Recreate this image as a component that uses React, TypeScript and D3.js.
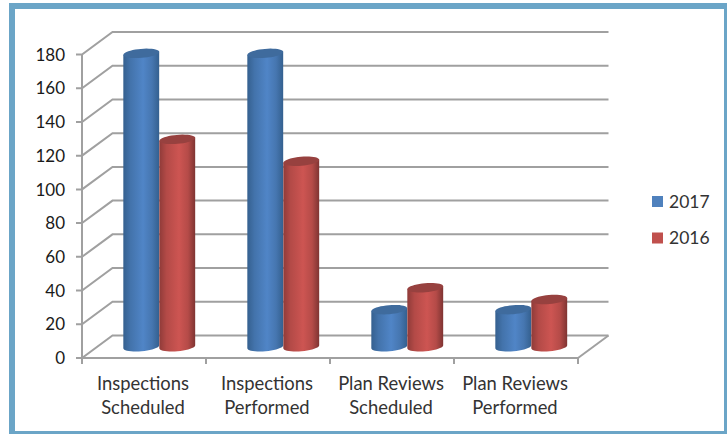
import React, { useMemo } from "react";
import * as d3 from "d3";

const categories = [
  ["Inspections", "Scheduled"],
  ["Inspections", "Performed"],
  ["Plan Reviews", "Scheduled"],
  ["Plan Reviews", "Performed"],
];
const seriesNames = ["2017", "2016"];
const values2017 = [174, 174, 22, 22];
const values2016 = [123, 110, 35, 28];
const ticks = d3.range(0, 181, 20);
const seriesValues = [values2017, values2016];
const FONT = "Lato, Carlito, Calibri, sans-serif";

export default function App() {
  const W = 727, H = 434;
  const x = useMemo(() => d3.scaleBand<number>().domain([0, 1, 2, 3]).range([82, 578]), []);
  const y = useMemo(() => d3.scaleLinear().domain([0, 180]).range([358, 54.5]), []);
  const dx = 30.5, dy = -22.5;
  const barW = 36;
  const grid = "#a0a0a0";
  const rx = barW / 2;
  const ry = 4.5;
  const theta = (-5 * Math.PI) / 180;
  const colors = ["blue", "red"];
  const tops = ["#3f6b9d", "#97413f"];
  const legend = ["#4f81bd", "#c0504d"];
  const line = d3.line<[number, number]>();
  const ellipsePt = (cx: number, cy: number, t: number): [number, number] => [
    cx + rx * Math.cos(t) * Math.cos(theta) - ry * Math.sin(t) * Math.sin(theta),
    cy + rx * Math.cos(t) * Math.sin(theta) + ry * Math.sin(t) * Math.cos(theta),
  ];
  const angles = d3.range(0, 41).map((i) => (i / 40) * 2 * Math.PI);
  const lower = d3.range(0, 21).map((i) => Math.PI - (i / 20) * Math.PI);

  return (
    <svg width={W} height={H} style={{ position: "absolute", left: 0, top: 0, background: "#fff" }} fontFamily={FONT}>
      <defs>
        <linearGradient id="blue" x1="0" x2="1" y1="0" y2="0">
          <stop offset="0" stopColor="#35608f" />
          <stop offset="0.2" stopColor="#4373ab" />
          <stop offset="0.55" stopColor="#5085c7" />
          <stop offset="0.8" stopColor="#4676b0" />
          <stop offset="1" stopColor="#34608f" />
        </linearGradient>
        <linearGradient id="red" x1="0" x2="1" y1="0" y2="0">
          <stop offset="0" stopColor="#8f3b39" />
          <stop offset="0.2" stopColor="#b34a47" />
          <stop offset="0.55" stopColor="#cd5552" />
          <stop offset="0.8" stopColor="#b54b48" />
          <stop offset="1" stopColor="#7f3432" />
        </linearGradient>
      </defs>
      <rect x={9} y={3} width={718} height={431} fill="#6ba5c7" />
      <rect x={15} y={9} width={709} height={422} fill="#fff" />

      {ticks.map((t) => (
        <polyline
          key={t}
          stroke={grid}
          strokeWidth={2}
          fill="none"
          points={`${x(0)! - 6},${y(t)} ${x(0)},${y(t)} ${x(0)! + dx},${y(t) + dy} ${x(3)! + x.bandwidth() + dx},${y(t) + dy}`}
        />
      ))}
      <g stroke={grid} strokeWidth={2} fill="none">
        <line x1={x(0)} x2={x(0)} y1={y(180)} y2={y(0) + 6} />
        <line x1={x(0)} x2={x(3)! + x.bandwidth()} y1={y(0)} y2={y(0)} />
        <line x1={x(3)! + x.bandwidth()} x2={x(3)! + x.bandwidth() + dx} y1={y(0)} y2={y(0) + dy} />
        {[1, 2, 3, 4].map((i) => {
          const px = x(0)! + i * x.bandwidth();
          return <line key={i} x1={px} x2={px} y1={y(0)} y2={y(0) + 6} />;
        })}
      </g>

      {categories.map((_, c) =>
        seriesValues.map((vals, s) => {
          const cx = x(c)! + x.bandwidth() / 2 + dx / 2 - barW + s * barW + rx;
          const base = y(0) + dy / 2;
          const top = y(vals[c]) + dy / 2;
          const outline: [number, number][] = [
            ellipsePt(cx, top, Math.PI),
            ...lower.map((t) => ellipsePt(cx, base, t)),
            ellipsePt(cx, top, 0),
          ];
          const cap = angles.map((t) => ellipsePt(cx, top, t));
          return (
            <g key={`${c}-${s}`}>
              <path d={line(outline)! + "Z"} fill={`url(#${colors[s]})`} />
              <path d={line(cap)! + "Z"} fill={tops[s]} />
            </g>
          );
        })
      )}

      {ticks.map((t) => (
        <text key={t} x={65} y={y(t)} dy="0.36em" textAnchor="end" fontSize={17} fill="#1a1a1a">{t}</text>
      ))}
      {categories.map((lines, c) => (
        <text key={c} textAnchor="middle" fontSize={18.4} fill="#333">
          {lines.map((l, i) => (
            <tspan key={i} x={x(c)! + x.bandwidth() / 2 - 1} y={390 + i * 23.5}>{l}</tspan>
          ))}
        </text>
      ))}
      {seriesNames.map((n, i) => (
        <g key={n}>
          <rect x={652} y={196 + i * 36.5} width={11} height={11} fill={legend[i]} />
          <text x={669} y={201.5 + i * 36.5} dy="0.36em" fontSize={17.5} fill="#333">{n}</text>
        </g>
      ))}
    </svg>
  );
}
